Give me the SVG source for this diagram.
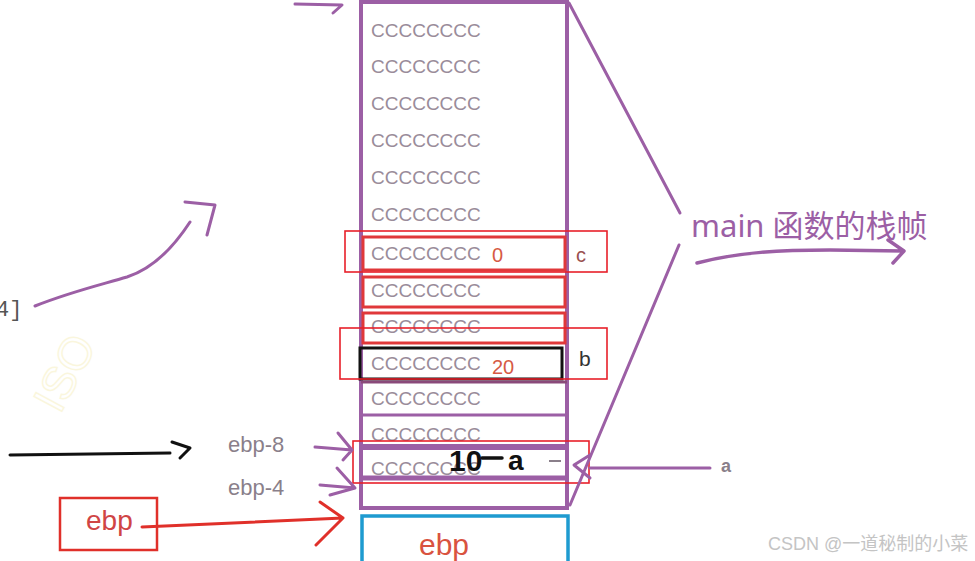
<svg xmlns="http://www.w3.org/2000/svg" width="975" height="561" viewBox="0 0 975 561">
<style>
.cc{font-family:"Liberation Sans",Arial,sans-serif;font-size:19px;fill:#9a8c9a}
.pur{stroke:#9c5fa5;fill:none;stroke-linecap:round;stroke-linejoin:round}
.redbox{stroke:#e8202a;fill:none;stroke-width:1.6}
.inred{stroke:#e0383a;fill:none;stroke-width:3}
.lbl{font-family:"Liberation Sans",Arial,sans-serif;font-size:22px;fill:#8a7f8a}
.num{font-family:"Liberation Sans",Arial,sans-serif;font-size:20px;fill:#d65a45}
</style>
<rect width="975" height="561" fill="#ffffff"/>
<g id="watermark-iso" opacity="0.18">
<text x="0" y="0" transform="translate(60,415) rotate(-62)" font-family="Liberation Sans,Arial,sans-serif" font-size="46" fill="none" stroke="#e8d24a" stroke-width="1.5">ISO</text>
</g>
<g id="stack-frame">
<rect x="361" y="2" width="206" height="506" fill="#ffffff" stroke="#9c5fa5" stroke-width="4"/>
<rect class="inred" x="363" y="237" width="202" height="33"/>
<rect class="inred" x="363" y="277" width="202" height="30"/>
<rect class="inred" x="363" y="313" width="202" height="30"/>
<rect x="360" y="348" width="202" height="31" fill="none" stroke="#111" stroke-width="3"/>
<line x1="361" y1="382" x2="567" y2="382" stroke="#8a4a7a" stroke-width="3"/>
<line x1="361" y1="415" x2="567" y2="415" stroke="#9c5fa5" stroke-width="3"/>
<line x1="361" y1="447" x2="567" y2="447" stroke="#9c5fa5" stroke-width="6"/>
<line x1="361" y1="478" x2="567" y2="478" stroke="#9c5fa5" stroke-width="5"/>
<text class="cc" x="371" y="37">CCCCCCCC</text>
<text class="cc" x="371" y="73">CCCCCCCC</text>
<text class="cc" x="371" y="110">CCCCCCCC</text>
<text class="cc" x="371" y="147">CCCCCCCC</text>
<text class="cc" x="371" y="184">CCCCCCCC</text>
<text class="cc" x="371" y="221">CCCCCCCC</text>
<text class="cc" x="371" y="260">CCCCCCCC</text>
<text class="cc" x="371" y="297">CCCCCCCC</text>
<text class="cc" x="371" y="333">CCCCCCCC</text>
<text class="cc" x="371" y="370">CCCCCCCC</text>
<text class="cc" x="371" y="405">CCCCCCCC</text>
<text class="cc" x="371" y="441">CCCCCCCC</text>
<text class="cc" x="371" y="475">CCCCCCCC</text>
<text class="num" x="492" y="262">0</text>
<text class="num" x="492" y="374">20</text>
</g>
<g id="var-c">
<rect class="redbox" x="345" y="231" width="262" height="41"/>
<text x="576" y="262" font-family="Liberation Sans,Arial,sans-serif" font-size="20" fill="#9a5050">c</text>
</g>
<g id="var-b">
<rect class="redbox" x="340" y="328" width="267" height="51"/>
<text x="579" y="366" font-family="Liberation Sans,Arial,sans-serif" font-size="21" fill="#333">b</text>
</g>
<g id="var-a">
<rect class="redbox" x="353" y="441" width="236" height="42"/>
<text x="449" y="471" font-family="Liberation Sans,Arial,sans-serif" font-size="30" font-weight="bold" fill="#111">10</text>
<line x1="482" y1="458" x2="502" y2="458" stroke="#111" stroke-width="3.5" stroke-linecap="round"/>
<text x="508" y="470" font-family="Liberation Sans,Arial,sans-serif" font-size="28" font-weight="bold" fill="#111">a</text>
<line x1="549" y1="461" x2="561" y2="461" stroke="#8a7f8a" stroke-width="2"/>
<text x="721" y="472" font-family="Liberation Sans,Arial,sans-serif" font-size="18" font-weight="bold" fill="#8a7f8a">a</text>
</g>
<g id="main-label">
<text x="691" y="237" font-family="Noto Sans,Noto Sans CJK SC,sans-serif" font-size="31" fill="#9c5fa5">main 函数的栈帧</text>
</g>
<g id="ebp-box">
<rect x="60" y="498" width="97" height="52" fill="none" stroke="#e0302a" stroke-width="2.5"/>
<text x="86" y="530" font-family="Liberation Sans,Arial,sans-serif" font-size="28" fill="#d04545">ebp</text>
</g>
<g id="ebp-frame">
<rect x="362" y="516" width="206" height="60" fill="#ffffff" stroke="#1e9bd0" stroke-width="3.5"/>
<text x="444" y="555" text-anchor="middle" font-family="Liberation Sans,Arial,sans-serif" font-size="30" fill="#d9533f">ebp</text>
</g>
<g id="side-labels">
<text class="lbl" x="228" y="452">ebp-8</text>
<text class="lbl" x="228" y="495">ebp-4</text>
<text x="-4" y="316" font-family="Liberation Mono,Courier New,monospace" font-size="22" fill="#555">4]</text>
<text x="768" y="550" font-family="Liberation Sans,Noto Sans CJK SC,sans-serif" font-size="18" fill="#c4c4c4">CSDN @一道秘制的小菜</text>
</g>
<g id="connectors">
<path class="pur" stroke-width="3" d="M295,4 L342,5 M342,5 L333,13"/>
<path class="pur" stroke-width="3" d="M569,3 L680,213"/>
<path class="pur" stroke-width="3" d="M679,245 L570,505"/>
<path class="pur" stroke-width="3.5" d="M697,263 C740,252 780,250 830,250 L903,251 M888,240 L904,251 L893,263"/>
<path class="pur" stroke-width="3" d="M35,306 C70,292 100,285 127,277 C155,268 175,245 190,222 M185,202 L215,205 L207,235"/>
<path class="pur" stroke-width="3" d="M315,447 L352,450 M338,433 L352,450 L343,460"/>
<path class="pur" stroke-width="3" d="M320,485 L355,488 M337,468 L355,488 L330,495"/>
<path class="pur" stroke-width="3" d="M710,468 L590,468 M590,455 L574,465 L590,478"/>
<path d="M10,455 L170,453 M172,442 L190,448 L180,458" fill="none" stroke="#111" stroke-width="3" stroke-linecap="round" stroke-linejoin="round"/>
<path d="M142,527 L343,518 M320,502 L343,518 L316,545" fill="none" stroke="#e0302a" stroke-width="3" stroke-linecap="round" stroke-linejoin="round"/>
</g>
</svg>
